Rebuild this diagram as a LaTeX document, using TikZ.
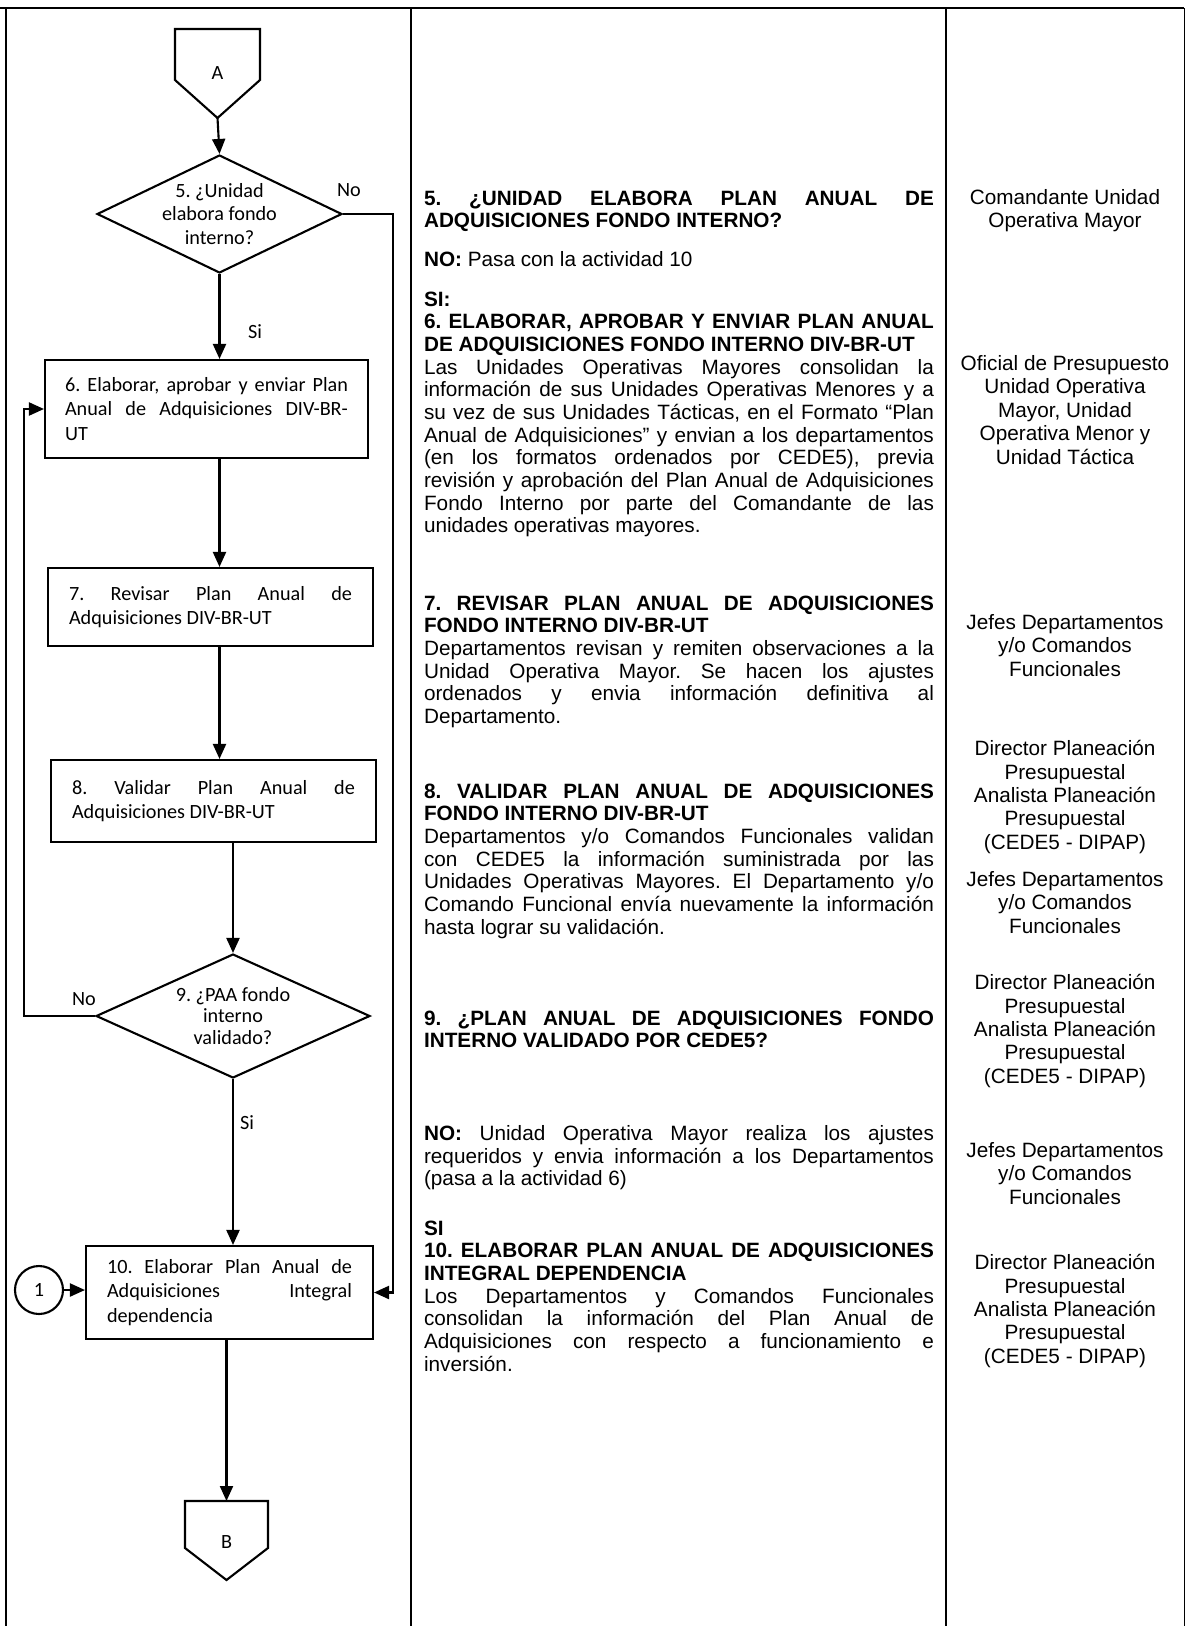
\documentclass[tikz,border=0pt]{standalone}
\usepackage{fontspec}
\setmainfont{Liberation Sans}
\newfontfamily\flowfont{Carlito}
\usetikzlibrary{shapes.geometric,arrows.meta}
\AtBeginDocument{\frenchspacing}

\begin{document}
\begin{tikzpicture}[x=0.02cm, y=-0.02cm, line width=1.2pt,
  arr/.style={-{Triangle[length=0.3cm,width=0.26cm]}},
  process/.style={draw, rectangle, align=justify, inner xsep=0.4cm, inner ysep=0pt, text width=5.66cm, font=\flowfont\fontsize{11.5}{14}\selectfont},
  decision/.style={draw, diamond, inner sep=0pt},
  dtext/.style={align=center, inner sep=0pt, font=\flowfont\fontsize{11.5}{13.5}\selectfont},
  flowlbl/.style={inner sep=0pt, font=\flowfont\fontsize{11.5}{14}\selectfont},
  desc/.style={anchor=north west, inner sep=0pt, text width=10.2cm, align=justify, font=\fontsize{11.8}{12.9}\selectfont},
  resp/.style={anchor=north, inner sep=0pt, align=center, font=\fontsize{11.8}{13.3}\selectfont}]
\useasboundingbox (0,0) rectangle (1186,1626);

% frame
\draw[line width=0.9pt] (0,8) -- (1184,8);
\draw[line width=0.9pt] (6,8) -- (6,1626);
\draw[line width=0.9pt] (411,8) -- (411,1626);
\draw[line width=0.9pt] (946,8) -- (946,1626);
\draw[line width=0.5pt] (1184,8) -- (1184,1626);

% flowchart
\draw (175,29) -- (260,29) -- (260,80) -- (217.5,118) -- (175,80) -- cycle;
\node[flowlbl] (A) at (217.5,73) {A};
\coordinate (Aout) at (217.5,118);

\node[decision, minimum width=4.9cm, minimum height=2.36cm] (d5) at (219.5,214) {};
\node[dtext] (t5) at (d5) {5. ¿Unidad\\elabora fondo\\interno?};

\node[process, minimum width=6.46cm, minimum height=1.96cm] (b6) at (206.5,409) {6. Elaborar, aprobar y enviar Plan\linebreak Anual de Adquisiciones DIV-BR-\linebreak UT};
\node[process, minimum width=6.5cm, minimum height=1.56cm] (b7) at (210.5,607) {7. Revisar Plan Anual de\linebreak Adquisiciones DIV-BR-UT};
\node[process, minimum width=6.5cm, minimum height=1.64cm] (b8) at (213.5,801) {8. Validar Plan Anual de\linebreak Adquisiciones DIV-BR-UT};

\node[decision, minimum width=5.48cm, minimum height=2.48cm] (d9) at (233,1016) {};
\node[dtext, font=\flowfont\fontsize{11.5}{12}\selectfont] (t9) at (d9) {9. ¿PAA fondo\\interno\\validado?};

\node[process, text width=4.9cm, minimum width=5.74cm, minimum height=1.86cm] (b10) at (229.5,1292.5) {10. Elaborar Plan Anual de\linebreak Adquisiciones Integral\linebreak dependencia};
\node[draw, circle, minimum size=0.96cm, flowlbl] (c1) at (39,1290) {1};

\draw (185,1501) -- (268,1501) -- (268,1548) -- (226.5,1580) -- (185,1548) -- cycle;
\node[flowlbl] (B) at (226.5,1542) {B};
\coordinate (Bin) at (226.5,1501);

\coordinate (noR) at (393,700);
\coordinate (noL) at (24,700);

\draw[arr] (Aout) -- (d5.north);
\draw[arr] (d5.south) -- (d5.south |- b6.north);
\draw[arr] (b6.south -| d5.south) -- (d5.south |- b7.north);
\draw[arr] (b7.south -| d5.south) -- (d5.south |- b8.north);
\draw[arr] (b8.south -| d9.north) -- (d9.north);
\draw[arr] (d9.south) -- (d9.south |- b10.north);
\draw[arr] (b10.south -| Bin) -- (Bin);
\draw[arr] (d5.east) -| (noR) |- (b10.east);
\draw[arr] (d9.west) -| (noL) |- (b6.west);
\draw[arr] (c1.east) -- (c1.east -| b10.west);

\node[flowlbl] (no5) at (349,190) {No};
\node[flowlbl] (si5) at (255,332) {Si};
\node[flowlbl] (no9) at (84,999) {No};
\node[flowlbl] (si9) at (247,1123) {Si};

% descriptions
\node[desc] (desc5) at (423,189.5) {\textbf{5. ¿UNIDAD ELABORA PLAN ANUAL DE\linebreak ADQUISICIONES FONDO INTERNO?}};
\node[desc] (desc5no) at (423,250.5) {\textbf{NO:} Pasa con la actividad 10};
\node[desc] (desc6) at (423,290.5) {\textbf{SI:}\\ \textbf{6. ELABORAR, APROBAR Y ENVIAR PLAN ANUAL\linebreak DE ADQUISICIONES FONDO INTERNO DIV-BR-UT}\\ Las Unidades Operativas Mayores consolidan la\linebreak información de sus Unidades Operativas Menores y a\linebreak su vez de sus Unidades Tácticas, en el Formato “Plan\linebreak Anual de Adquisiciones” y envian a los departamentos\linebreak (en los formatos ordenados por CEDE5), previa\linebreak revisión y aprobación del Plan Anual de Adquisiciones\linebreak Fondo Interno por parte del Comandante de las\linebreak unidades operativas mayores.};
\node[desc] (desc7) at (423,594.5) {\textbf{7. REVISAR PLAN ANUAL DE ADQUISICIONES\linebreak FONDO INTERNO DIV-BR-UT}\\ Departamentos revisan y remiten observaciones a la\linebreak Unidad Operativa Mayor. Se hacen los ajustes\linebreak ordenados y envia información definitiva al\linebreak Departamento.};
\node[desc] (desc8) at (423,782.5) {\textbf{8. VALIDAR PLAN ANUAL DE ADQUISICIONES\linebreak FONDO INTERNO DIV-BR-UT}\\ Departamentos y/o Comandos Funcionales validan\linebreak con CEDE5 la información suministrada por las\linebreak Unidades Operativas Mayores. El Departamento y/o\linebreak Comando Funcional envía nuevamente la información\linebreak hasta lograr su validación.};
\node[desc] (desc9) at (423,1009.5) {\textbf{9. ¿PLAN ANUAL DE ADQUISICIONES FONDO\linebreak INTERNO VALIDADO POR CEDE5?}};
\node[desc] (desc9no) at (423,1124.5) {\textbf{NO:} Unidad Operativa Mayor realiza los ajustes\linebreak requeridos y envia información a los Departamentos\linebreak (pasa a la actividad 6)};
\node[desc] (desc10) at (423,1219.5) {\textbf{SI}\\ \textbf{10. ELABORAR PLAN ANUAL DE ADQUISICIONES\linebreak INTEGRAL DEPENDENCIA}\\ Los Departamentos y Comandos Funcionales\linebreak consolidan la información del Plan Anual de\linebreak Adquisiciones con respecto a funcionamiento e\linebreak inversión.};

% responsables
\node[resp] (resp5) at (1065,188.5) {Comandante Unidad\\Operativa Mayor};
\node[resp] (resp6) at (1065,354.5) {Oficial de Presupuesto\\Unidad Operativa\\Mayor, Unidad\\Operativa Menor y\\Unidad Táctica};
\node[resp] (resp7) at (1065,613.5) {Jefes Departamentos\\y/o Comandos\\Funcionales};
\node[resp] (resp8a) at (1065,739.5) {Director Planeación\\Presupuestal\\Analista Planeación\\Presupuestal\\(CEDE5 - DIPAP)};
\node[resp] (resp8b) at (1065,870.5) {Jefes Departamentos\\y/o Comandos\\Funcionales};
\node[resp] (resp9) at (1065,973.5) {Director Planeación\\Presupuestal\\Analista Planeación\\Presupuestal\\(CEDE5 - DIPAP)};
\node[resp] (resp10a) at (1065,1141.5) {Jefes Departamentos\\y/o Comandos\\Funcionales};
\node[resp] (resp10b) at (1065,1253.5) {Director Planeación\\Presupuestal\\Analista Planeación\\Presupuestal\\(CEDE5 - DIPAP)};
\end{tikzpicture}
\end{document}
